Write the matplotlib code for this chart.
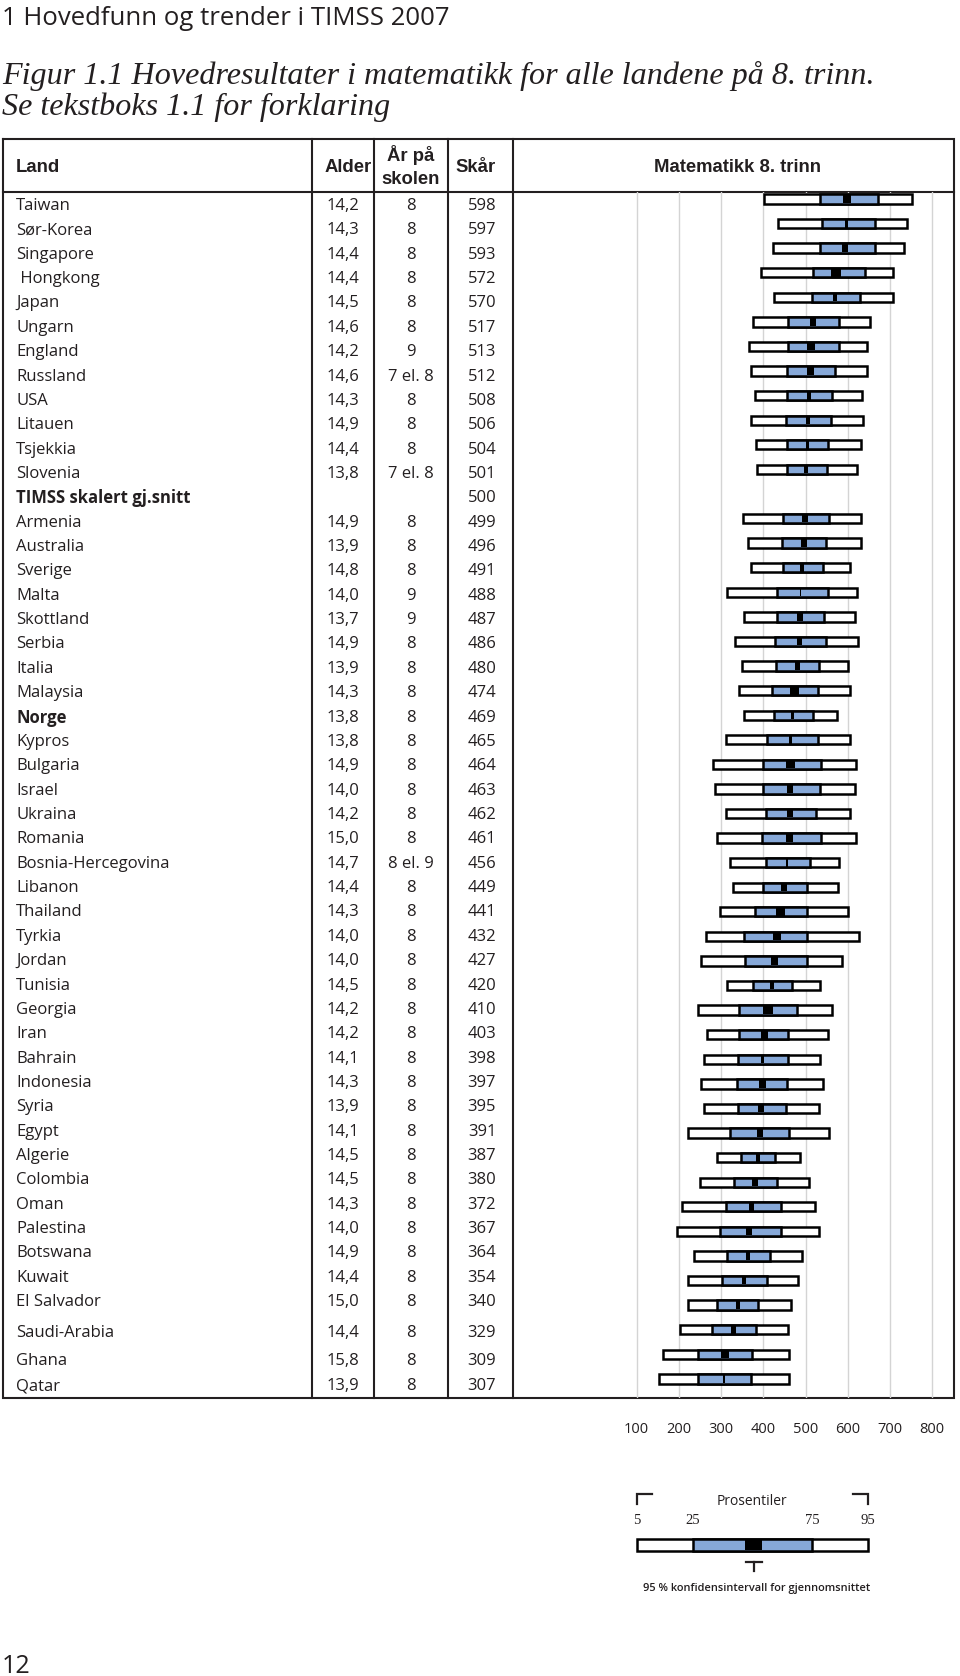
import numpy as np
import matplotlib
matplotlib.use("Agg")
import matplotlib.pyplot as plt
from matplotlib.patches import Rectangle

nan = np.nan

countries = ["Taiwan", "Sør-Korea", "Singapore", " Hongkong", "Japan", "Ungarn", "England",
             "Russland", "USA", "Litauen", "Tsjekkia", "Slovenia", "TIMSS skalert gj.snitt",
             "Armenia", "Australia", "Sverige", "Malta", "Skottland", "Serbia", "Italia",
             "Malaysia", "Norge", "Kypros", "Bulgaria", "Israel", "Ukraina", "Romania",
             "Bosnia-Hercegovina", "Libanon", "Thailand", "Tyrkia", "Jordan", "Tunisia",
             "Georgia", "Iran", "Bahrain", "Indonesia", "Syria", "Egypt", "Algerie",
             "Colombia", "Oman", "Palestina", "Botswana", "Kuwait", "El Salvador",
             "Saudi-Arabia", "Ghana", "Qatar"]
bold_rows = ["TIMSS skalert gj.snitt", "Norge"]

age = ["14,2", "14,3", "14,4", "14,4", "14,5", "14,6", "14,2", "14,6", "14,3", "14,9",
       "14,4", "13,8", "", "14,9", "13,9", "14,8", "14,0", "13,7", "14,9", "13,9", "14,3",
       "13,8", "13,8", "14,9", "14,0", "14,2", "15,0", "14,7", "14,4", "14,3", "14,0",
       "14,0", "14,5", "14,2", "14,2", "14,1", "14,3", "13,9", "14,1", "14,5", "14,5",
       "14,3", "14,0", "14,9", "14,4", "15,0", "14,4", "15,8", "13,9"]

years = ["8", "8", "8", "8", "8", "8", "9", "7 el. 8", "8", "8", "8", "7 el. 8", "",
         "8", "8", "8", "9", "9", "8", "8", "8", "8", "8", "8", "8", "8", "8", "8 el. 9",
         "8", "8", "8", "8", "8", "8", "8", "8", "8", "8", "8", "8", "8", "8", "8", "8",
         "8", "8", "8", "8", "8"]

score = [598, 597, 593, 572, 570, 517, 513, 512, 508, 506, 504, 501, 500, 499, 496, 491,
         488, 487, 486, 480, 474, 469, 465, 464, 463, 462, 461, 456, 449, 441, 432, 427,
         420, 410, 403, 398, 397, 395, 391, 387, 380, 372, 367, 364, 354, 340, 329, 309, 307]

p5 = [402, 435, 422, 394, 424, 375, 367, 371, 379, 371, 383, 384, nan, 351, 364, 371, 315,
      355, 333, 350, 342, 355, 311, 280, 286, 311, 289, 321, 329, 297, 263, 252, 313, 244,
      266, 259, 252, 259, 222, 291, 250, 207, 195, 236, 221, 222, 203, 162, 153]
p25 = [534, 538, 533, 518, 516, 459, 459, 455, 455, 454, 455, 455, nan, 447, 443, 446, 432,
       432, 428, 430, 421, 425, 408, 398, 400, 405, 396, 406, 398, 379, 355, 357, 376, 343,
       343, 341, 338, 339, 321, 346, 330, 311, 297, 313, 301, 289, 278, 246, 244]
p75 = [672, 664, 664, 641, 629, 578, 578, 570, 563, 559, 554, 551, nan, 555, 548, 540, 554,
       544, 548, 532, 530, 518, 530, 536, 534, 524, 536, 510, 503, 503, 504, 504, 467, 479,
       459, 458, 457, 453, 461, 428, 432, 441, 441, 416, 409, 388, 383, 372, 370]
p95 = [751, 739, 734, 708, 706, 653, 645, 645, 634, 637, 630, 621, nan, 630, 631, 605, 622,
       617, 625, 601, 605, 574, 605, 619, 617, 605, 619, 580, 576, 601, 626, 585, 534, 563,
       552, 534, 542, 532, 555, 487, 508, 523, 532, 491, 483, 465, 458, 461, 461]
ci = [9, 3.6, 7.5, 11, 4, 7, 9.6, 8, 5.6, 4.6, 4, 4, nan, 7, 7, 5, 2, 7.4, 6.6, 6, 10, 4,
      3.2, 10, 7.8, 7, 8, 3, 8, 10, 9, 8, 5, 12, 8, 3, 8, 7.5, 7, 4, 7, 6, 7, 4.6, 5, 5.6,
      6, 9, 2]

xticks = [100, 200, 300, 400, 500, 600, 700, 800]

BLUE = "#86A8D8"
INK = "#231F20"

W, H = 960, 1676
fig = plt.figure(figsize=(W / 100, H / 100), dpi=100)
bg = fig.add_axes([0, 0, 1, 1])
bg.set_xlim(0, W)
bg.set_ylim(H, 0)
bg.axis("off")

body = ["Open Sans", "DejaVu Sans"]
arial = ["Liberation Sans", "DejaVu Sans"]
serif = ["Liberation Serif", "DejaVu Serif"]

# page header / caption
bg.text(2, 25, "1 Hovedfunn og trender i TIMSS 2007", family=body, fontsize=18.5,
        color=INK, va="baseline", ha="left")
bg.text(2, 84, "Figur 1.1 Hovedresultater i matematikk for alle landene på 8. trinn.",
        family=serif, style="italic", fontsize=23.1, color=INK,
        va="baseline", ha="left")
bg.text(2, 115, "Se tekstboks 1.1 for forklaring", family=serif,
        style="italic", fontsize=23.1, color=INK, va="baseline", ha="left")
bg.text(2, 1673, "12", family=body, fontsize=18, color=INK, va="baseline", ha="left")

# table frame
L, R, T, B = 3, 954, 139, 1398
HB = 192
cols = [312, 374, 448, 513]
lw = 1.5
bg.plot([L, R, R, L, L], [T, T, B, B, T], color=INK, lw=lw, solid_joinstyle="miter")
bg.plot([L, R], [HB, HB], color=INK, lw=lw)
for cx in cols:
    bg.plot([cx, cx], [T, B], color=INK, lw=lw)

# header texts
hy = 167
hfs = 13.3
bg.text(16, hy, "Land", family=arial, weight="bold", fontsize=hfs, color=INK, va="center")
bg.text(348, hy, "Alder", family=arial, weight="bold", fontsize=hfs, color=INK,
        va="center", ha="center")
bg.text(411, 155, "År på", family=arial, weight="bold", fontsize=hfs, color=INK,
        va="center", ha="center")
bg.text(411, 179, "skolen", family=arial, weight="bold", fontsize=hfs, color=INK,
        va="center", ha="center")
bg.text(476, hy, "Skår", family=arial, weight="bold", fontsize=hfs, color=INK,
        va="center", ha="center")
bg.text(738, hy, "Matematikk 8. trinn", family=arial, weight="bold", fontsize=hfs,
        color=INK, va="center", ha="center")

# table body text
row0, rstep = 206, 24.36
extra = [0] * 46 + [6, 10, 11]
bfs = 12
for i, name in enumerate(countries):
    y = row0 + i * rstep + extra[i]
    wt = "bold" if name in bold_rows else "normal"
    bg.text(16, y, name, family=body, fontsize=bfs, weight=wt, color=INK, va="center")
    bg.text(343, y, age[i], family=body, fontsize=bfs, color=INK, va="center", ha="center")
    bg.text(411, y, years[i], family=body, fontsize=bfs, color=INK, va="center", ha="center")
    bg.text(482, y, str(score[i]), family=body, fontsize=bfs, color=INK, va="center",
            ha="center")

# chart panel
px0, px1 = 513, 954
g100, gpp = 636.7, 0.4223  # pixel of 100, pixels per score point
xmin = 100 + (px0 - g100) / gpp
xmax = 100 + (px1 - g100) / gpp
ry0, rys = 199, 24.58
ymin = (HB - ry0) / rys
ymax = (B - ry0) / rys
ax = fig.add_axes([px0 / W, 1 - B / H, (px1 - px0) / W, (B - HB) / H])
ax.set_xlim(xmin, xmax)
ax.set_ylim(ymax, ymin)
ax.patch.set_alpha(0)
for s in ax.spines.values():
    s.set_visible(False)
ax.set_yticks([])
ax.set_xticks(xticks)
ax.set_xticklabels([str(t) for t in xticks], family=body, fontsize=10.5, color=INK)
ax.tick_params(axis="x", length=0, pad=17)
ax.grid(axis="x", color="#D4D4D4", lw=1.0, zorder=0)
ax.set_axisbelow(True)

rows = np.arange(len(countries))
s = np.array(score, float)
a5, a25, a75, a95, c = (np.array(v, float) for v in (p5, p25, p75, p95, ci))
m = ~np.isnan(a5)
h = 0.38
blw = 1.8
ax.barh(rows[m], (a95 - a5)[m], left=a5[m], height=h, color="white", edgecolor="black",
        lw=blw, zorder=2)
ax.barh(rows[m], (a75 - a25)[m], left=a25[m], height=h, color=BLUE, edgecolor="black",
        lw=blw, zorder=3)
ax.barh(rows[m], (2 * c)[m], left=(s - c)[m], height=h - 0.06, color="black",
        edgecolor="none", lw=0, zorder=4)

# legend (key)
lx5, lx25, lx75, lx95 = 637, 693, 812, 868
ly0, ly1 = 1539, 1551
lg = bg
lg.add_patch(Rectangle((lx5, ly0), lx95 - lx5, ly1 - ly0, facecolor="white",
                       edgecolor="black", lw=blw))
lg.add_patch(Rectangle((lx25, ly0), lx75 - lx25, ly1 - ly0, facecolor=BLUE,
                       edgecolor="black", lw=blw))
lg.add_patch(Rectangle((745, ly0 + 1), 17, ly1 - ly0 - 2, facecolor="black",
                       edgecolor="none"))
for xx, lab in zip([lx5, lx25, lx75, lx95], ["5", "25", "75", "95"]):
    lg.text(xx, 1520, lab, family=serif, fontsize=10.5, color=INK,
            ha="center", va="center")
lg.text(752, 1501, "Prosentiler", family=body, fontsize=10, color=INK, ha="center",
        va="center")
lg.plot([lx5 + 15, lx5, lx5], [1494, 1494, 1504], color=INK, lw=1.6,
        solid_joinstyle="miter")
lg.plot([lx95 - 15, lx95, lx95], [1494, 1494, 1504], color=INK, lw=1.6,
        solid_joinstyle="miter")
lg.plot([746, 762], [1562, 1562], color=INK, lw=1.6)
lg.plot([754, 754], [1562, 1571], color=INK, lw=1.6)
lg.text(757, 1588, "95 % konfidensintervall for gjennomsnittet", family=body,
        fontsize=7.9, weight="semibold", color=INK, ha="center", va="center")

fig.savefig("out.png", dpi=100)
